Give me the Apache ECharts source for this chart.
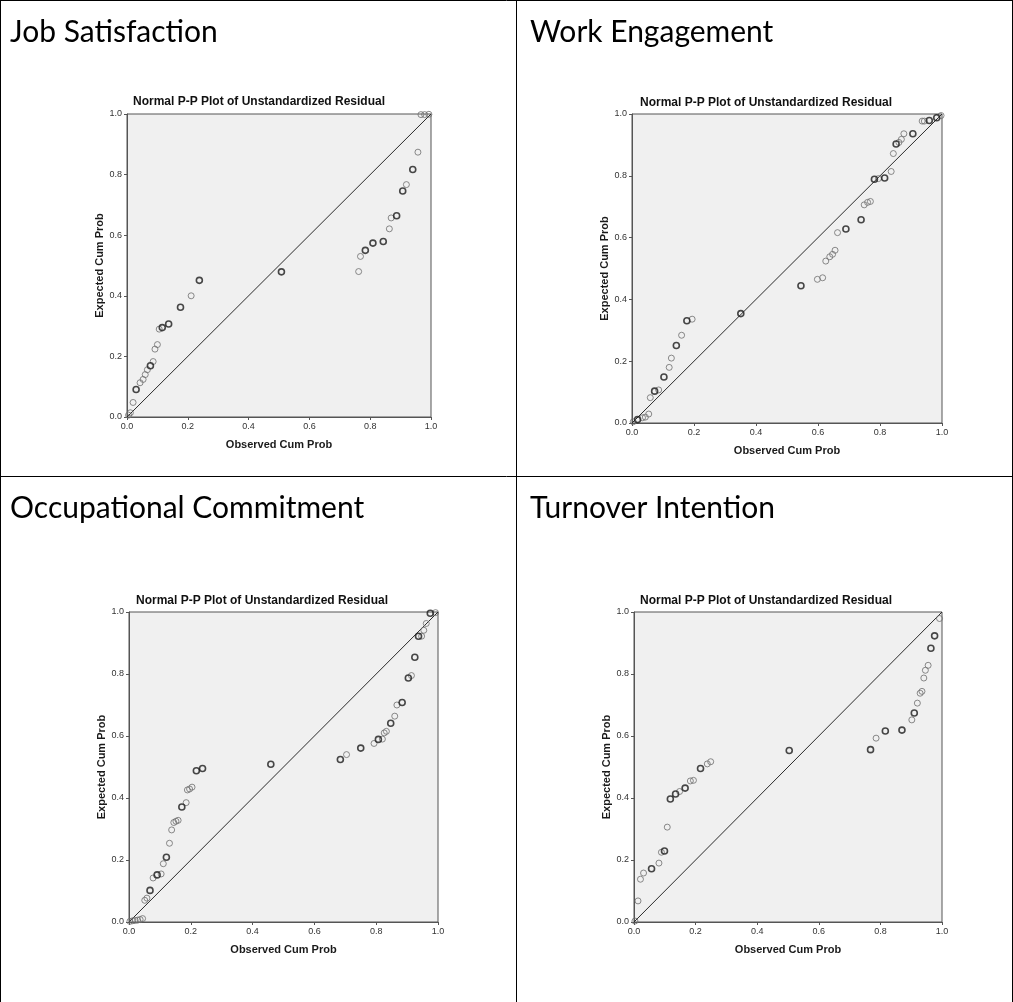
<!DOCTYPE html>
<html>
<head>
<meta charset="utf-8">
<script src="https://cdn.jsdelivr.net/npm/echarts@6/dist/echarts.min.js"></script>
<style>
  html, body { margin: 0; padding: 0; background: #ffffff; }
  #chart { width: 1013px; height: 1002px; }
</style>
</head>
<body>
<div id="chart"></div>
<script>
// ---- text ----
const panelNames = ['Job Satisfaction', 'Work Engagement', 'Occupational Commitment', 'Turnover Intention'];
const plotTitle = 'Normal P-P Plot of Unstandardized Residual';
const xAxisTitle = 'Observed Cum Prob';
const yAxisTitle = 'Expected Cum Prob';

// ---- axis ticks and reference line ----
const axisTicks = [0.0, 0.2, 0.4, 0.6, 0.8, 1.0];
const diagonal = [0, 1];

// ---- Job Satisfaction: observed / expected cumulative probability, number of tied cases ----
const jsObserved = [0.005, 0.011, 0.020, 0.030, 0.043, 0.053, 0.060, 0.067, 0.077, 0.086, 0.092, 0.100, 0.106, 0.116, 0.137, 0.176, 0.211, 0.238, 0.508, 0.762, 0.768, 0.784, 0.809, 0.843, 0.863, 0.869, 0.887, 0.907, 0.919, 0.940, 0.957, 0.967, 0.979, 0.993];
const jsExpected = [0.006, 0.014, 0.048, 0.091, 0.113, 0.124, 0.140, 0.156, 0.169, 0.183, 0.224, 0.239, 0.290, 0.295, 0.307, 0.362, 0.400, 0.451, 0.479, 0.480, 0.530, 0.550, 0.574, 0.579, 0.621, 0.657, 0.664, 0.746, 0.767, 0.817, 0.874, 0.998, 0.998, 0.999];
const jsTies     = [1, 1, 1, 2, 1, 1, 1, 1, 2, 1, 1, 1, 1, 2, 2, 2, 1, 2, 2, 1, 1, 2, 2, 2, 1, 1, 2, 2, 1, 2, 1, 1, 1, 1];

// ---- Work Engagement ----
const weObserved = [0.004, 0.018, 0.034, 0.043, 0.054, 0.059, 0.073, 0.086, 0.103, 0.120, 0.127, 0.143, 0.160, 0.177, 0.194, 0.351, 0.545, 0.598, 0.615, 0.625, 0.638, 0.647, 0.655, 0.663, 0.690, 0.739, 0.749, 0.760, 0.769, 0.782, 0.795, 0.815, 0.836, 0.843, 0.852, 0.861, 0.869, 0.877, 0.906, 0.936, 0.943, 0.959, 0.983, 0.997];
const weExpected = [0.004, 0.011, 0.017, 0.019, 0.029, 0.082, 0.103, 0.107, 0.149, 0.180, 0.210, 0.251, 0.284, 0.331, 0.336, 0.354, 0.444, 0.465, 0.470, 0.524, 0.538, 0.546, 0.559, 0.616, 0.628, 0.658, 0.706, 0.714, 0.717, 0.789, 0.791, 0.793, 0.814, 0.872, 0.903, 0.908, 0.918, 0.936, 0.936, 0.977, 0.977, 0.979, 0.988, 0.995];
const weTies     = [1, 2, 1, 1, 1, 1, 2, 1, 2, 1, 1, 2, 1, 2, 1, 2, 2, 1, 1, 1, 1, 1, 1, 1, 2, 2, 1, 1, 1, 2, 1, 2, 1, 1, 2, 1, 1, 1, 2, 1, 1, 2, 2, 1];

// ---- Occupational Commitment ----
const ocObserved = [0.003, 0.012, 0.020, 0.028, 0.036, 0.044, 0.051, 0.058, 0.068, 0.078, 0.091, 0.104, 0.111, 0.121, 0.131, 0.138, 0.145, 0.152, 0.159, 0.171, 0.185, 0.189, 0.196, 0.204, 0.218, 0.238, 0.459, 0.684, 0.704, 0.750, 0.793, 0.807, 0.820, 0.826, 0.833, 0.847, 0.860, 0.867, 0.884, 0.904, 0.914, 0.925, 0.937, 0.947, 0.954, 0.962, 0.975, 0.992];
const ocExpected = [0.002, 0.004, 0.005, 0.006, 0.008, 0.011, 0.070, 0.077, 0.102, 0.142, 0.152, 0.155, 0.188, 0.209, 0.254, 0.297, 0.321, 0.325, 0.328, 0.371, 0.385, 0.426, 0.429, 0.435, 0.488, 0.495, 0.509, 0.524, 0.540, 0.561, 0.576, 0.589, 0.590, 0.610, 0.615, 0.641, 0.664, 0.700, 0.708, 0.787, 0.795, 0.854, 0.922, 0.922, 0.941, 0.963, 0.996, 0.998];
const ocTies     = [1, 1, 1, 1, 1, 1, 1, 1, 2, 1, 2, 1, 1, 2, 1, 1, 1, 1, 1, 2, 1, 1, 1, 1, 2, 2, 2, 2, 1, 2, 1, 2, 1, 1, 1, 2, 1, 1, 2, 2, 1, 2, 2, 1, 1, 1, 2, 1];

// ---- Turnover Intention ----
const tiObserved = [0.003, 0.013, 0.021, 0.031, 0.057, 0.081, 0.089, 0.099, 0.108, 0.118, 0.135, 0.148, 0.166, 0.183, 0.193, 0.216, 0.238, 0.249, 0.504, 0.768, 0.786, 0.816, 0.870, 0.902, 0.910, 0.920, 0.929, 0.935, 0.941, 0.946, 0.955, 0.964, 0.976, 0.992];
const tiExpected = [0.003, 0.068, 0.138, 0.158, 0.172, 0.190, 0.225, 0.229, 0.306, 0.397, 0.413, 0.421, 0.432, 0.455, 0.457, 0.495, 0.510, 0.517, 0.553, 0.556, 0.593, 0.616, 0.619, 0.652, 0.674, 0.706, 0.738, 0.744, 0.787, 0.812, 0.828, 0.883, 0.923, 0.979];
const tiTies     = [1, 1, 1, 1, 2, 1, 1, 2, 1, 2, 2, 1, 2, 1, 1, 2, 1, 1, 2, 2, 1, 2, 2, 1, 2, 1, 1, 1, 1, 1, 1, 2, 2, 1];

const panelData = [
  [jsObserved, jsExpected, jsTies],
  [weObserved, weExpected, weTies],
  [ocObserved, ocExpected, ocTies],
  [tiObserved, tiExpected, tiTies]
];

// ---- page layout: table cells and plot rectangles (px) ----
const headerPos = [[10, 17], [530, 17], [10, 493], [530, 493]];
const plotTitlePos = [[133, 96], [640, 97], [136, 595], [640, 595]];
const plotRects = [
  { left: 127, top: 114, width: 304, height: 303 },
  { left: 632, top: 114, width: 310, height: 309 },
  { left: 129, top: 612, width: 309, height: 310 },
  { left: 634, top: 612, width: 308, height: 310 }
];

const SANS = '"Liberation Sans", Arial, sans-serif';
const frameColor = '#555555';

const grids = [], xAxes = [], yAxes = [], series = [], titles = [];

plotRects.forEach((r, i) => {
  grids.push(Object.assign({
    show: true,
    backgroundColor: '#f0f0f0',
    borderColor: frameColor,
    borderWidth: 1,
    containLabel: false
  }, r));

  const common = {
    gridIndex: i,
    type: 'value',
    min: axisTicks[0],
    max: axisTicks[axisTicks.length - 1],
    interval: +(axisTicks[1] - axisTicks[0]).toFixed(10),
    splitLine: { show: false },
    axisLine: { show: true, lineStyle: { color: frameColor, width: 1 } },
    axisTick: { show: true, inside: false, length: 3, lineStyle: { color: frameColor } },
    axisLabel: {
      formatter: v => v.toFixed(1),
      fontFamily: SANS,
      fontSize: 9,
      color: '#333333',
      margin: 5
    },
    nameLocation: 'middle',
    nameTextStyle: { fontFamily: SANS, fontWeight: 'bold', fontSize: 11, color: '#1a1a1a' }
  };
  xAxes.push(Object.assign({}, common, { name: xAxisTitle, nameGap: 22 }));
  yAxes.push(Object.assign({}, common, { name: yAxisTitle, nameGap: 22 }));

  // 45-degree reference line
  series.push({
    type: 'line',
    xAxisIndex: i,
    yAxisIndex: i,
    data: diagonal.map(v => [v, v]),
    symbol: 'none',
    silent: true,
    lineStyle: { color: '#2a2a2a', width: 1 },
    z: 2
  });

  const [obs, exp, ties] = panelData[i];
  const single = [], tied = [];
  obs.forEach((x, k) => (ties[k] > 1 ? tied : single).push([x, exp[k]]));

  series.push({
    type: 'scatter',
    xAxisIndex: i,
    yAxisIndex: i,
    data: single,
    symbol: 'circle',
    symbolSize: 6,
    silent: true,
    itemStyle: { color: 'rgba(0,0,0,0)', borderColor: '#6e6e6e', borderWidth: 1 },
    z: 3
  });
  series.push({
    type: 'scatter',
    xAxisIndex: i,
    yAxisIndex: i,
    data: tied,
    symbol: 'circle',
    symbolSize: 6,
    silent: true,
    itemStyle: { color: 'rgba(0,0,0,0)', borderColor: '#1c1c1c', borderWidth: 1.6 },
    z: 4
  });

  titles.push({
    text: panelNames[i],
    left: headerPos[i][0],
    top: headerPos[i][1],
    padding: 0,
    textStyle: { fontFamily: 'Lato, "Open Sans", sans-serif', fontWeight: 'normal', fontSize: 30, color: '#000000' }
  });
  titles.push({
    text: plotTitle,
    left: plotTitlePos[i][0],
    top: plotTitlePos[i][1],
    padding: 0,
    textStyle: { fontFamily: SANS, fontWeight: 'bold', fontSize: 12, color: '#111111' }
  });
});

// table rules separating the four panels
const rule = (x1, y1, x2, y2) => ({
  type: 'line',
  shape: { x1, y1, x2, y2 },
  style: { stroke: '#000000', lineWidth: 1 },
  silent: true
});
const graphics = [
  rule(0.5, 0, 0.5, 1002),
  rule(516.5, 0, 516.5, 1002),
  rule(1012.5, 0, 1012.5, 1002),
  rule(0, 0.5, 1013, 0.5),
  rule(0, 476.5, 1013, 476.5)
];

const chart = echarts.init(document.getElementById('chart'), null, { renderer: 'canvas' });
chart.setOption({
  animation: false,
  backgroundColor: '#ffffff',
  title: titles,
  grid: grids,
  xAxis: xAxes,
  yAxis: yAxes,
  series: series,
  graphic: graphics
});
</script>
</body>
</html>
